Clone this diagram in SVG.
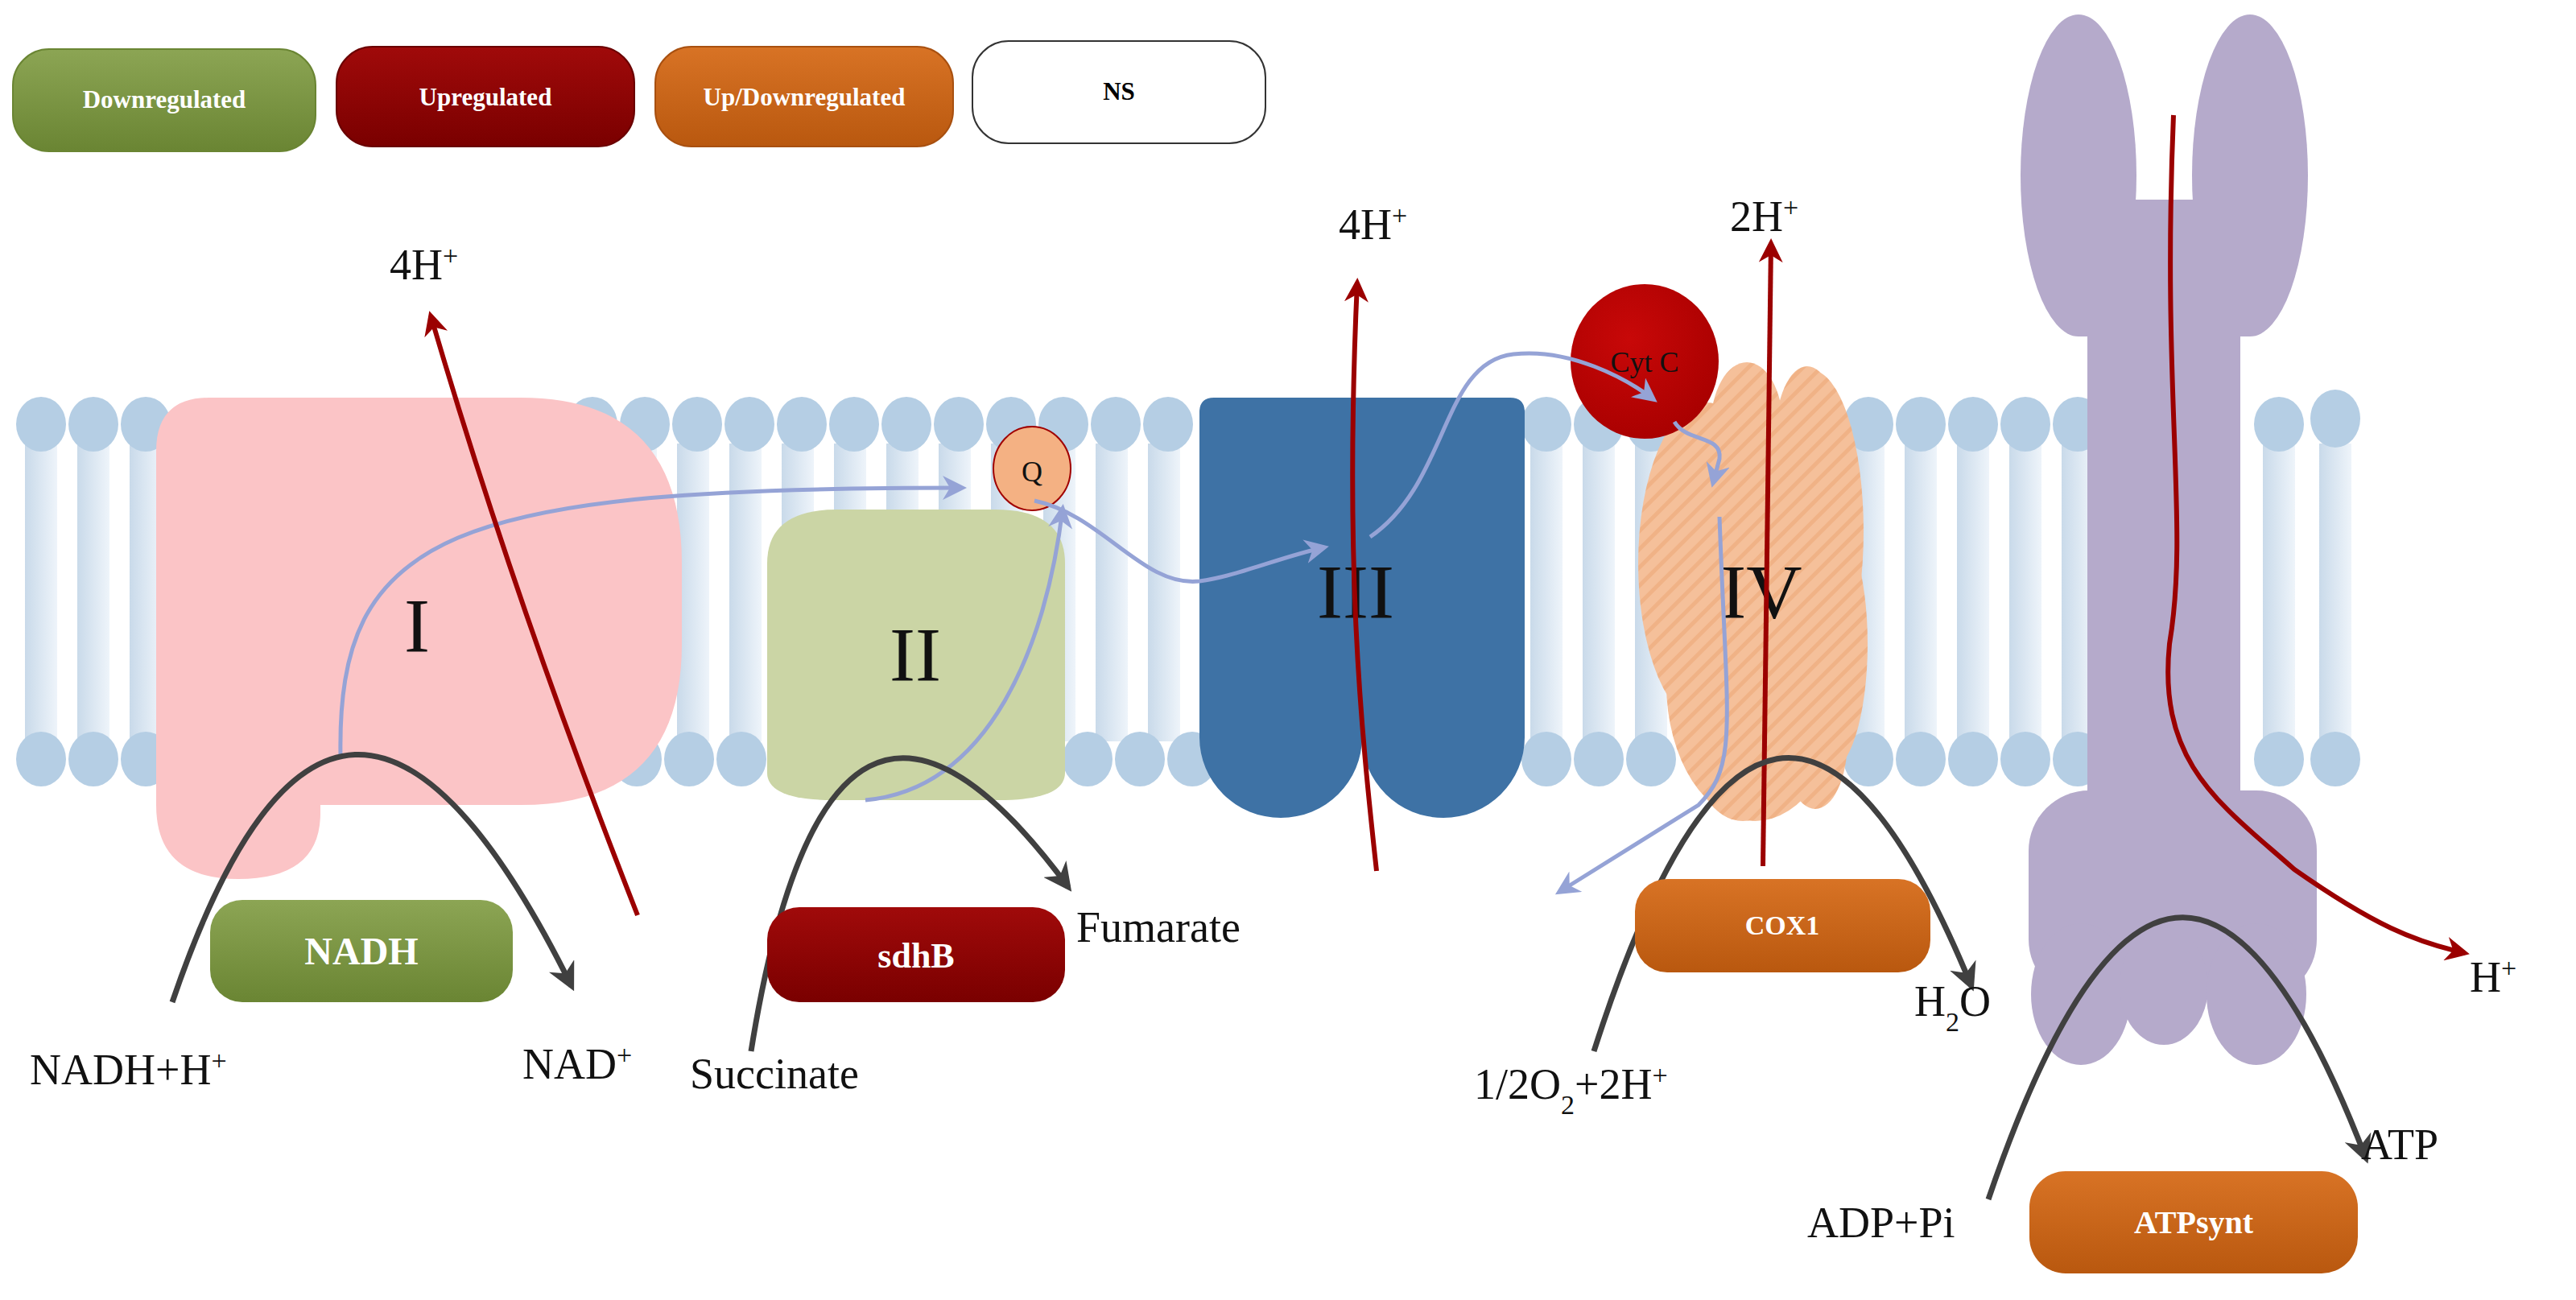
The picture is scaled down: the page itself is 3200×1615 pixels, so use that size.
<svg xmlns="http://www.w3.org/2000/svg" width="3200" height="1615" viewBox="0 0 3200 1615">
<defs>
<style>
.lbl{font-family:"Liberation Serif",serif;font-size:54px;fill:#111}
.rom{font-family:"Liberation Serif",serif;font-size:96px;fill:#111;text-anchor:middle}
.pill{font-family:"Liberation Serif",serif;font-weight:bold;fill:#fff;text-anchor:middle}
.red{fill:none;stroke:#9B0000;stroke-width:6;marker-end:url(#ar)}
.blue{fill:none;stroke:#95A3D6;stroke-width:5;marker-end:url(#ab)}
.blk{fill:none;stroke:#404040;stroke-width:7;marker-end:url(#ak)}
.head{fill:#B5CEE4}
</style>
<marker id="ar" viewBox="0 0 10 10" refX="8" refY="5" markerWidth="5" markerHeight="5" orient="auto"><path d="M0,0 L10,5 L0,10 L3,5 Z" fill="#9B0000"/></marker>
<marker id="ab" viewBox="0 0 10 10" refX="8" refY="5" markerWidth="6" markerHeight="6" orient="auto"><path d="M0,0 L10,5 L0,10 L3,5 Z" fill="#95A3D6"/></marker>
<marker id="ak" viewBox="0 0 10 10" refX="8" refY="5" markerWidth="5" markerHeight="5" orient="auto"><path d="M0,0 L10,5 L0,10 L3,5 Z" fill="#404040"/></marker>
<linearGradient id="tail" x1="0" x2="1" y1="0" y2="0"><stop offset="0" stop-color="#C9DAEA"/><stop offset="1" stop-color="#EEF4FA"/></linearGradient>
<linearGradient id="gD" x1="0" x2="0" y1="0" y2="1"><stop offset="0" stop-color="#8CA554"/><stop offset="1" stop-color="#6A8533"/></linearGradient>
<linearGradient id="gU" x1="0" x2="0" y1="0" y2="1"><stop offset="0" stop-color="#A00A0A"/><stop offset="1" stop-color="#7A0000"/></linearGradient>
<linearGradient id="gO" x1="0" x2="0" y1="0" y2="1"><stop offset="0" stop-color="#D87325"/><stop offset="1" stop-color="#B9580F"/></linearGradient>
<radialGradient id="gC" cx="0.4" cy="0.35" r="0.7"><stop offset="0" stop-color="#C80808"/><stop offset="1" stop-color="#A80000"/></radialGradient>
<pattern id="hatch" width="16" height="16" patternUnits="userSpaceOnUse" patternTransform="rotate(45)"><rect width="16" height="16" fill="#F5C09A"/><rect width="5" height="16" fill="#F0B286"/></pattern>
</defs>
<rect width="3200" height="1615" fill="#fff"/>

<g id="legend">
<rect x="16" y="61" width="376" height="127" rx="45" fill="url(#gD)" stroke="#6A8533" stroke-width="2"/>
<text class="pill" x="204" y="134" font-size="31">Downregulated</text>
<rect x="418" y="58" width="370" height="124" rx="45" fill="url(#gU)" stroke="#6A0000" stroke-width="2"/>
<text class="pill" x="603" y="131" font-size="31">Upregulated</text>
<rect x="814" y="58" width="370" height="124" rx="45" fill="url(#gO)" stroke="#A85010" stroke-width="2"/>
<text class="pill" x="999" y="131" font-size="31">Up/Downregulated</text>
<rect x="1208" y="51" width="364" height="127" rx="45" fill="#fff" stroke="#333" stroke-width="2"/>
<text class="pill" x="1390" y="124" font-size="31" style="fill:#000">NS</text>
</g>

<g id="membrane">
<g fill="url(#tail)">
<rect x="31" y="551" width="40" height="370"/><rect x="96" y="551" width="40" height="370"/><rect x="161" y="551" width="40" height="370"/>
<rect x="776" y="551" width="40" height="370"/><rect x="841" y="551" width="40" height="370"/><rect x="906" y="551" width="40" height="370"/><rect x="971" y="551" width="40" height="370"/><rect x="1036" y="551" width="40" height="370"/><rect x="1101" y="551" width="40" height="370"/><rect x="1166" y="551" width="40" height="370"/><rect x="1231" y="551" width="40" height="370"/><rect x="1296" y="551" width="40" height="370"/><rect x="1361" y="551" width="40" height="370"/><rect x="1426" y="551" width="40" height="370"/>
<rect x="1901" y="551" width="40" height="370"/><rect x="1966" y="551" width="40" height="370"/><rect x="2031" y="551" width="40" height="370"/>
<rect x="2301" y="551" width="40" height="370"/><rect x="2366" y="551" width="40" height="370"/><rect x="2431" y="551" width="40" height="370"/><rect x="2496" y="551" width="40" height="370"/><rect x="2561" y="551" width="40" height="370"/>
<rect x="2811" y="551" width="40" height="370"/><rect x="2881" y="551" width="40" height="370"/>
</g>
<g class="head">
<ellipse cx="51" cy="527" rx="31" ry="34"/><ellipse cx="116" cy="527" rx="31" ry="34"/><ellipse cx="181" cy="527" rx="31" ry="34"/>
<ellipse cx="51" cy="943" rx="31" ry="34"/><ellipse cx="116" cy="943" rx="31" ry="34"/><ellipse cx="181" cy="943" rx="31" ry="34"/>
<ellipse cx="736" cy="527" rx="31" ry="34"/><ellipse cx="801" cy="527" rx="31" ry="34"/><ellipse cx="866" cy="527" rx="31" ry="34"/><ellipse cx="931" cy="527" rx="31" ry="34"/><ellipse cx="996" cy="527" rx="31" ry="34"/><ellipse cx="1061" cy="527" rx="31" ry="34"/><ellipse cx="1126" cy="527" rx="31" ry="34"/><ellipse cx="1191" cy="527" rx="31" ry="34"/><ellipse cx="1256" cy="527" rx="31" ry="34"/><ellipse cx="1321" cy="527" rx="31" ry="34"/><ellipse cx="1386" cy="527" rx="31" ry="34"/><ellipse cx="1451" cy="527" rx="31" ry="34"/>
<ellipse cx="791" cy="943" rx="31" ry="34"/><ellipse cx="856" cy="943" rx="31" ry="34"/><ellipse cx="921" cy="943" rx="31" ry="34"/><ellipse cx="1351" cy="943" rx="31" ry="34"/><ellipse cx="1416" cy="943" rx="31" ry="34"/><ellipse cx="1481" cy="943" rx="31" ry="34"/>
<ellipse cx="1921" cy="527" rx="31" ry="34"/><ellipse cx="1986" cy="527" rx="31" ry="34"/><ellipse cx="2051" cy="527" rx="31" ry="34"/>
<ellipse cx="1921" cy="943" rx="31" ry="34"/><ellipse cx="1986" cy="943" rx="31" ry="34"/><ellipse cx="2051" cy="943" rx="31" ry="34"/>
<ellipse cx="2321" cy="527" rx="31" ry="34"/><ellipse cx="2386" cy="527" rx="31" ry="34"/><ellipse cx="2451" cy="527" rx="31" ry="34"/><ellipse cx="2516" cy="527" rx="31" ry="34"/><ellipse cx="2581" cy="527" rx="31" ry="34"/>
<ellipse cx="2321" cy="943" rx="31" ry="34"/><ellipse cx="2386" cy="943" rx="31" ry="34"/><ellipse cx="2451" cy="943" rx="31" ry="34"/><ellipse cx="2516" cy="943" rx="31" ry="34"/><ellipse cx="2581" cy="943" rx="31" ry="34"/>
<ellipse cx="2831" cy="527" rx="31" ry="34"/><ellipse cx="2901" cy="520" rx="31" ry="36"/>
<ellipse cx="2831" cy="943" rx="31" ry="34"/><ellipse cx="2901" cy="943" rx="31" ry="34"/>
</g>
</g>

<g id="complexI">
<path d="M194 560 Q194 494 260 494 L647 494 Q847 494 847 700 L847 800 Q847 1000 647 1000 L398 1000 L398 1010 Q398 1092 296 1092 Q194 1092 194 1000 Z" fill="#FBC4C6"/>
<text class="rom" x="518" y="810">I</text>
</g>
<g id="complexII">
<path d="M953 700 Q953 633 1040 633 L1236 633 Q1323 633 1323 700 L1323 960 Q1323 994 1240 994 L1036 994 Q953 994 953 960 Z" fill="#CBD5A5"/>
<text class="rom" x="1137" y="846">II</text>
</g>
<g id="complexIII">
<path d="M1490 512 Q1490 494 1508 494 L1876 494 Q1894 494 1894 512 L1894 916 A101 100 0 0 1 1692 916 A101 100 0 0 1 1490 916 Z" fill="#3E72A5"/>
<text class="rom" x="1684" y="768">III</text>
</g>
<g id="complexIV">
<g fill="url(#hatch)">
<ellipse cx="2120" cy="700" rx="85" ry="200"/><ellipse cx="2250" cy="660" rx="65" ry="200"/><ellipse cx="2180" cy="850" rx="110" ry="170"/>
<ellipse cx="2170" cy="530" rx="45" ry="80"/><ellipse cx="2245" cy="545" rx="40" ry="90"/><ellipse cx="2165" cy="920" rx="65" ry="100"/>
<ellipse cx="2255" cy="920" rx="40" ry="85"/><ellipse cx="2270" cy="800" rx="50" ry="160"/>
</g>
<text class="rom" x="2188" y="768">IV</text>
</g>
<g id="Q">
<ellipse cx="1282" cy="582" rx="48" ry="52" fill="#F4B183" stroke="#A00000" stroke-width="2"/>
<text x="1282" y="598" font-family="Liberation Serif,serif" font-size="36" text-anchor="middle" fill="#111">Q</text>
</g>
<g id="cytc">
<ellipse cx="2043" cy="449" rx="92" ry="96" fill="url(#gC)"/>
<text x="2043" y="462" font-family="Liberation Serif,serif" font-size="36" text-anchor="middle" fill="#111">Cyt C</text>
</g>
<g id="atpsynthase" fill="#B5AACB">
<ellipse cx="2582" cy="218" rx="72" ry="200"/><ellipse cx="2795" cy="218" rx="72" ry="200"/>
<rect x="2582" y="248" width="213" height="170"/>
<rect x="2593" y="400" width="190" height="600"/>
<rect x="2520" y="982" width="358" height="260" rx="75"/>
<ellipse cx="2585" cy="1235" rx="62" ry="88"/><ellipse cx="2688" cy="1225" rx="55" ry="73"/><ellipse cx="2803" cy="1235" rx="62" ry="88"/>
</g>

<g id="connectors">
<path class="blue" d="M423 940 C418 660 560 606 1195 606"/>
<path class="blue" d="M1075 994 C1230 980 1300 800 1320 632"/>
<path class="blue" d="M1285 622 C1370 640 1420 730 1490 722 C1540 715 1590 692 1645 680"/>
<path class="blue" d="M1702 667 C1800 600 1790 450 1880 440 C1950 432 2020 470 2054 496"/>
<path class="blue" d="M2080 524 C2095 550 2140 540 2136 570 L2128 600"/>
<path class="blue" d="M2136 642 C2145 900 2160 950 2110 1000 L1937 1108"/>
<path class="red" d="M792 1137 Q640 750 535 392"/>
<path class="red" d="M1710 1082 C1690 900 1670 700 1686 351"/>
<path class="red" d="M2190 1076 L2200 302"/>
<path class="red" d="M2700 143 C2685 500 2720 650 2695 800 C2680 950 2760 1000 2850 1080 C2950 1150 3000 1170 3062 1184"/>
<path class="blk" d="M214 1245 Q420 640 710 1225"/>
<path class="blk" d="M933 1306 Q1030 700 1327 1102"/>
<path class="blk" d="M1980 1306 Q2200 620 2449 1225"/>
<path class="blk" d="M2470 1490 Q2700 816 2939 1439"/>
</g>

<g id="genes">
<rect x="261" y="1118" width="376" height="127" rx="40" fill="url(#gD)"/>
<text class="pill" x="449" y="1198" font-size="48">NADH</text>
<rect x="953" y="1127" width="370" height="118" rx="40" fill="url(#gU)"/>
<text class="pill" x="1138" y="1202" font-size="44">sdhB</text>
<rect x="2031" y="1092" width="367" height="116" rx="40" fill="url(#gO)"/>
<text class="pill" x="2214" y="1161" font-size="34">COX1</text>
<rect x="2521" y="1455" width="408" height="127" rx="45" fill="url(#gO)"/>
<text class="pill" x="2725" y="1532" font-size="40">ATPsynt</text>
</g>

<g id="labels">
<text class="lbl" x="484" y="347">4H<tspan baseline-shift="super" font-size="34">+</tspan></text>
<text class="lbl" x="1663" y="297">4H<tspan baseline-shift="super" font-size="34">+</tspan></text>
<text class="lbl" x="2149" y="287">2H<tspan baseline-shift="super" font-size="34">+</tspan></text>
<text class="lbl" x="3068" y="1232">H<tspan baseline-shift="super" font-size="34">+</tspan></text>
<text class="lbl" x="37" y="1347">NADH+H<tspan baseline-shift="super" font-size="34">+</tspan></text>
<text class="lbl" x="649" y="1340">NAD<tspan baseline-shift="super" font-size="34">+</tspan></text>
<text class="lbl" x="857" y="1352">Succinate</text>
<text class="lbl" x="1337" y="1170">Fumarate</text>
<text class="lbl" x="2378" y="1262">H<tspan baseline-shift="sub" font-size="34">2</tspan>O</text>
<text class="lbl" x="1831" y="1365">1/2O<tspan baseline-shift="sub" font-size="34">2</tspan>+2H<tspan baseline-shift="super" font-size="34">+</tspan></text>
<text class="lbl" x="2245" y="1537">ADP+Pi</text>
<text class="lbl" x="2933" y="1440">ATP</text>
</g>
</svg>
